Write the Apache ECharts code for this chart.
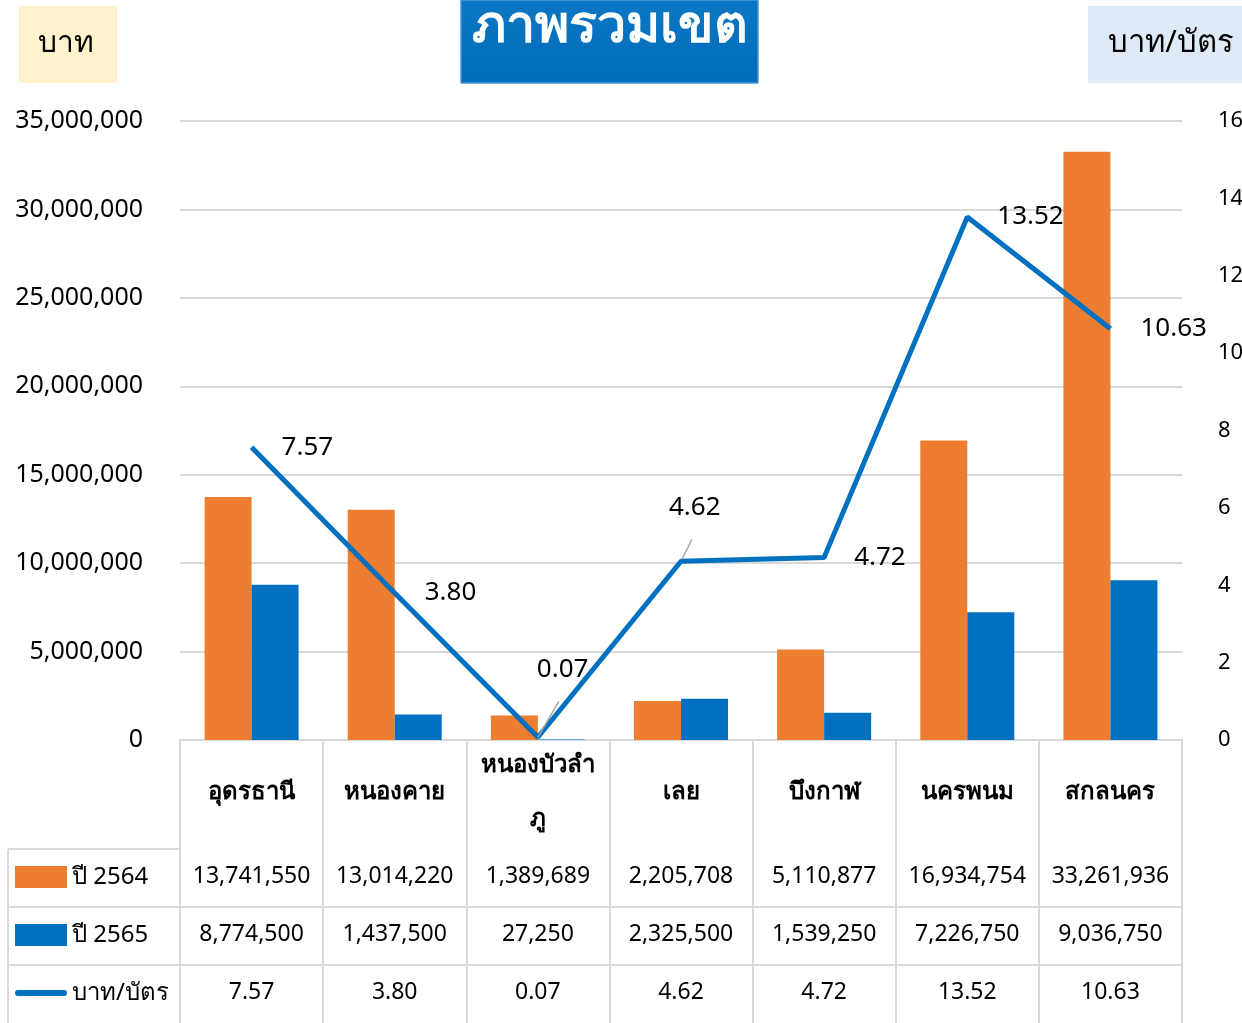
<!DOCTYPE html>
<html lang="th">
<head>
<meta charset="utf-8">
<title>ภาพรวมเขต</title>
<script src="https://cdn.jsdelivr.net/npm/echarts@6/dist/echarts.min.js"></script>
<style>
  html, body { margin: 0; padding: 0; background: #ffffff; }
  #chart { width: 1242px; height: 1023px; }
</style>
</head>
<body>
<div id="chart"></div>
<script>
// ข้อมูลรายจังหวัด
const categories = ['อุดรธานี', 'หนองคาย', 'หนองบัวลำภู', 'เลย', 'บึงกาฬ', 'นครพนม', 'สกลนคร']
const seriesNames = ['ปี 2564', 'ปี 2565', 'บาท/บัตร']
const amount2564 = [13741550, 13014220, 1389689, 2205708, 5110877, 16934754, 33261936]
const amount2565 = [8774500, 1437500, 27250, 2325500, 1539250, 7226750, 9036750]
const bahtPerCard = [7.57, 3.80, 0.07, 4.62, 4.72, 13.52, 10.63]
const leftTicks = [0, 5000000, 10000000, 15000000, 20000000, 25000000, 30000000, 35000000]
const rightTicks = [0, 2, 4, 6, 8, 10, 12, 14, 16]

const FONT = "'Noto Sans', 'Liberation Sans', sans-serif"
const ORANGE = '#ed7d31'
const BLUE = '#0070c0'
const BORDER = '#d9d9d9'

const fmtInt = (v) => v.toLocaleString('en-US')
const fmtDec = (v) => v.toFixed(2)

// ชื่อยาวตัดบรรทัดแบบ Excel
const wrapName = (v) => (v.length > 10 ? v.slice(0, 9) + '\n' + v.slice(9) : v)

// ป้ายที่ต้องขยับ (index -> dx, dy) และเส้นนำสั้น ๆ (จุดเริ่ม/จุดปลาย เทียบกับจุดข้อมูล)
const movedLabels = {
  2: { shift: [-31, -68], guide: [0, 0, 21, -36] },
  3: { shift: [-42, -54], guide: [1, -2, 11, -22] },
}

const chart = echarts.init(document.getElementById('chart'))

// แถวตารางใต้กราฟ ใช้แกน x เพิ่มอีกสามแกน
const tableRows = [amount2564.map(fmtInt), amount2565.map(fmtInt), bahtPerCard.map(fmtDec)]
const tableAxes = tableRows.map((row, i) => ({
  type: 'category',
  position: 'bottom',
  offset: 109 + i * 58,
  data: row,
  axisLine: { show: true, lineStyle: { color: BORDER, width: 2 } },
  axisTick: { show: false },
  axisLabel: {
    interval: 0,
    margin: 27,
    verticalAlign: 'middle',
    fontSize: 23,
    color: '#000',
  },
}))

const option = {
  animation: false,
  textStyle: { fontFamily: FONT },
  grid: {
    left: 180,
    right: 60,
    top: 121,
    bottom: 283,
    outerBoundsMode: 'none',
  },
  legend: {
    orient: 'vertical',
    left: 15,
    top: 865,
    padding: 0,
    itemWidth: 52,
    itemHeight: 22,
    itemGap: 34,
    textStyle: {
      fontSize: 24,
      lineHeight: 22,
      color: '#000',
    },
    data: [
      { name: seriesNames[0], icon: 'rect' },
      { name: seriesNames[1], icon: 'rect' },
      { name: seriesNames[2], icon: 'path://M3,0 L51,0 A3,3 0 0 1 51,6 L3,6 A3,3 0 0 1 3,0 Z' },
    ],
  },
  xAxis: [
    {
      type: 'category',
      data: categories,
      axisLine: { lineStyle: { color: BORDER, width: 2 } },
      axisTick: {
        show: true,
        interval: 0,
        length: 283,
        lineStyle: { color: BORDER, width: 2 },
      },
      axisLabel: {
        interval: 0,
        margin: 52,
        verticalAlign: 'middle',
        fontSize: 24,
        fontWeight: 'bold',
        color: '#000',
        lineHeight: 54,
        formatter: wrapName,
      },
    },
    ...tableAxes,
  ],
  yAxis: [
    {
      type: 'value',
      min: leftTicks[0],
      max: leftTicks[leftTicks.length - 1],
      interval: leftTicks[1] - leftTicks[0],
      axisLine: { show: false },
      axisTick: { show: false },
      splitLine: { lineStyle: { color: BORDER, width: 2 } },
      axisLabel: {
        margin: 37,
        fontSize: 25,
        color: '#000',
        formatter: fmtInt,
      },
    },
    {
      type: 'value',
      min: rightTicks[0],
      max: rightTicks[rightTicks.length - 1],
      interval: rightTicks[1] - rightTicks[0],
      axisLine: { show: false },
      axisTick: { show: false },
      splitLine: { show: false },
      axisLabel: {
        margin: 36,
        fontSize: 22,
        color: '#000',
        padding: [0, 0, 6, 0],
      },
    },
  ],
  series: [
    {
      name: seriesNames[0],
      type: 'bar',
      data: amount2564,
      barWidth: 47,
      barGap: '0%',
      itemStyle: { color: ORANGE },
    },
    {
      name: seriesNames[1],
      type: 'bar',
      data: amount2565,
      barWidth: 47,
      barGap: '0%',
      itemStyle: { color: BLUE },
    },
    {
      name: seriesNames[2],
      type: 'line',
      yAxisIndex: 1,
      z: 5,
      symbol: 'circle',
      symbolSize: 0,
      showSymbol: true,
      itemStyle: { color: BLUE },
      lineStyle: { color: BLUE, width: 5 },
      data: bahtPerCard,
      label: {
        show: true,
        position: 'right',
        distance: 30,
        fontSize: 26,
        color: '#000',
        formatter: (p) => fmtDec(p.value),
      },
      labelLayout: (p) => {
        const m = movedLabels[p.dataIndex]
        return m ? { dx: m.shift[0], dy: m.shift[1] } : {}
      },
    },
  ],
  graphic: [
    // กล่องหัวเรื่อง
    {
      type: 'rect',
      shape: { x: 461, y: 0, width: 297, height: 83 },
      style: {
        fill: new echarts.graphic.LinearGradient(0, 0, 0, 1, [
          { offset: 0, color: '#0a76c4' },
          { offset: 1, color: '#006cba' },
        ]),
        stroke: '#4a97d4',
        lineWidth: 1,
      },
    },
    {
      type: 'text',
      x: 610,
      y: 27,
      style: {
        text: 'ภาพรวมเขต',
        fill: '#ffffff',
        font: `bold 52px ${FONT}`,
        textAlign: 'center',
        textVerticalAlign: 'middle',
      },
    },
    {
      type: 'rect',
      shape: { x: 19, y: 6, width: 98, height: 77 },
      style: { fill: '#fff2cc' },
    },
    {
      type: 'text',
      x: 66,
      y: 43,
      style: {
        text: 'บาท',
        fill: '#000',
        font: `30px ${FONT}`,
        textAlign: 'center',
        textVerticalAlign: 'middle',
      },
    },
    {
      type: 'rect',
      shape: { x: 1088, y: 6, width: 154, height: 77 },
      style: { fill: '#deebf7' },
    },
    {
      type: 'text',
      x: 1171,
      y: 43,
      style: {
        text: 'บาท/บัตร',
        fill: '#000',
        font: `31px ${FONT}`,
        textAlign: 'center',
        textVerticalAlign: 'middle',
      },
    },
    // เส้นตารางส่วนคำอธิบาย
    ...[849, 907, 965].map((y) => ({
      type: 'line',
      shape: { x1: 8, y1: y, x2: 180, y2: y },
      style: { stroke: BORDER, lineWidth: 2 },
    })),
    {
      type: 'line',
      shape: { x1: 8, y1: 849, x2: 8, y2: 1023 },
      style: { stroke: BORDER, lineWidth: 2 },
    },
  ],
}

chart.setOption(option)

// เส้นนำของป้ายที่ถูกขยับ คำนวณจากตำแหน่งจุดจริงบนแกน
const guides = Object.keys(movedLabels).map((k) => {
  const i = Number(k)
  const g = movedLabels[i].guide
  const [px, py] = chart.convertToPixel({ xAxisIndex: 0, yAxisIndex: 1 }, [i, bahtPerCard[i]])
  return {
    type: 'line',
    z: 10,
    shape: { x1: px + g[0], y1: py + g[1], x2: px + g[2], y2: py + g[3] },
    style: { stroke: '#a6a6a6', lineWidth: 1.5 },
  }
})
chart.setOption({ graphic: [...option.graphic, ...guides] })

window.addEventListener('resize', () => chart.resize())
</script>
</body>
</html>
